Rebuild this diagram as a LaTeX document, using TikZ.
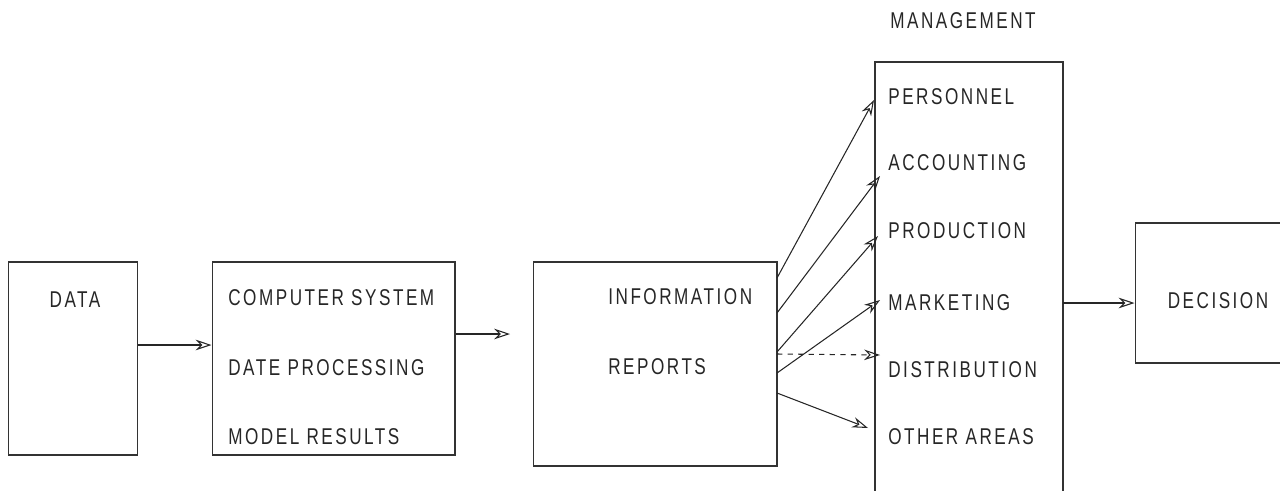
\documentclass[tikz,border=0pt]{standalone}
\usepackage{fontspec}
\setmainfont{Liberation Sans}[FakeStretch=0.75,LetterSpace=11]
\usetikzlibrary{arrows.meta}

\tikzset{
  box/.style={draw=black!80, line width=0.6pt, rectangle, inner sep=0pt},
  lbl/.style={font=\fontsize{13}{15}\selectfont, text=black!85, inner sep=0pt},
  flow/.style={draw=black!85, line width=0.6pt, -{Stealth[open,length=9pt,width=6pt]}}
}

\begin{document}
\begin{tikzpicture}[x=0.02cm, y=-0.02cm]
\useasboundingbox (0,0) rectangle (1280,490);

% Boxes
\node[box, minimum width=2.58cm, minimum height=3.86cm] (data) at (73,358.5) {};
\node[box, minimum width=4.86cm, minimum height=3.86cm] (comp) at (333.5,358.5) {};
\node[box, minimum width=4.88cm, minimum height=4.08cm] (info) at (655,364) {};
\node[box, minimum width=3.3cm, minimum height=2.8cm] (dec) at (1217.5,293) {};

% Management column (open at the bottom)
\coordinate (mtl) at (875,62);
\coordinate (mtr) at (1063,62);
\draw[black!80, line width=0.6pt] (875,495) -- (mtl) -- (mtr) -- (1063,495);

% Labels
\node[lbl] (datalbl) at (75,300) {DATA};
\node[lbl, anchor=west] (cs) at (228,298) {COMPUTER SYSTEM};
\node[lbl, anchor=west] (dp) at (228,368) {DATE PROCESSING};
\node[lbl, anchor=west] (mr) at (228,437) {MODEL RESULTS};
\node[lbl, anchor=west] (inf) at (608,297) {INFORMATION};
\node[lbl, anchor=west] (rep) at (608,367) {REPORTS};
\node[lbl] (mgmt) at (963,21) {MANAGEMENT};
\node[lbl, anchor=west] (pers) at (888,97) {PERSONNEL};
\node[lbl, anchor=west] (acct) at (888,163) {ACCOUNTING};
\node[lbl, anchor=west] (prod) at (888,231) {PRODUCTION};
\node[lbl, anchor=west] (mark) at (888,303) {MARKETING};
\node[lbl, anchor=west] (dist) at (888,370) {DISTRIBUTION};
\node[lbl, anchor=west] (other) at (888,437) {OTHER AREAS};
\node[lbl] (declbl) at (1218,301) {DECISION};

% Arrow ends
\coordinate (i1) at (777,278);
\coordinate (i2) at (777,313);
\coordinate (i3) at (777,352);
\coordinate (i4) at (777,373);
\coordinate (i5) at (777,354);
\coordinate (i6) at (777,393);
\coordinate (cinfo) at (510,334);

% Connectors
\draw[flow] (data.east |- 0,345) -- (comp.west |- 0,345);
\draw[flow] (comp.east |- cinfo) -- (cinfo);
\draw[flow] (i1) -- ([shift={(-14,3)}]pers.west);
\draw[flow] (i2) -- ([shift={(-8,13)}]acct.west);
\draw[flow] (i3) -- ([shift={(-10,5)}]prod.west);
\draw[flow] (i4) -- ([shift={(-8,-3)}]mark.west);
\draw[flow, dashed] (i5) -- ([shift={(-8,-15)}]dist.west);
\draw[flow] (i6) -- ([shift={(-20,-9)}]other.west);
\draw[flow] (1063,303) -- (dec.west |- 0,303);

\end{tikzpicture}
\end{document}
